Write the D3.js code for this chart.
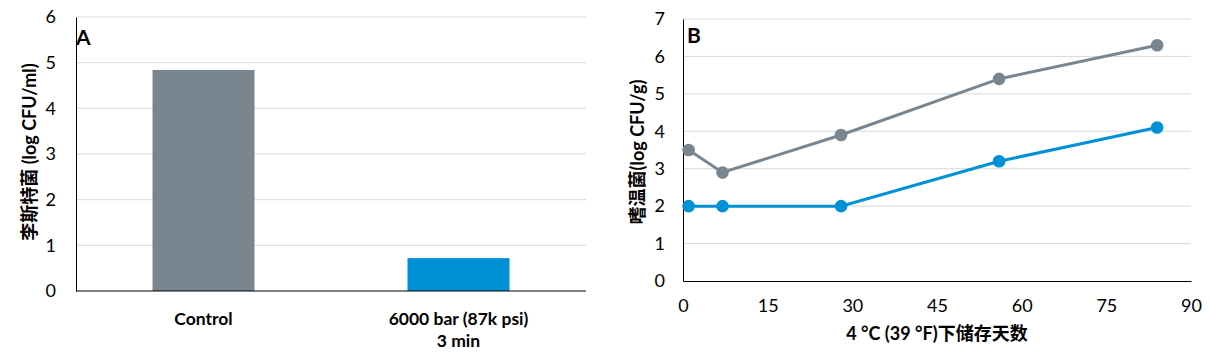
<!DOCTYPE html>
<html><head><meta charset="utf-8">
<script src="https://cdn.jsdelivr.net/npm/d3@7"></script>
<style>
body{margin:0;background:#fff;}
svg{display:block;}
text{font-family:Lato,"Noto Sans CJK SC",sans-serif;}
</style></head><body>
<svg id="c" width="1210" height="354"></svg>
<script>
const catsA = ["Control", "6000 bar (87k psi)|3 min"];
const valsA = [4.84, 0.72];
const colorsA = ["#7A868F", "#0090D6"];
const yTicksA = [0,1,2,3,4,5,6];

const daysB = [1, 7, 28, 56, 84];
const grayB = [3.5, 2.9, 3.9, 5.4, 6.3];
const blueB = [2.0, 2.0, 2.0, 3.2, 4.1];
const xTicksB = [0,15,30,45,60,75,90];
const yTicksB = [0,1,2,3,4,5,6,7];

const svg = d3.select("#c");
const fmt = d3.format("d");

// ---- Chart A ----
const A = {l:76, r:586, t:17, b:291};
const xA = d3.scaleBand().domain(catsA).range([A.l, A.r]).paddingInner(0.6).paddingOuter(0.3);
const yA = d3.scaleLinear().domain([0,6]).range([A.b, A.t]);
const gA = svg.append("g");
gA.selectAll("line.grid").data(yTicksA.filter(d=>d>0)).join("line")
  .attr("x1",A.l).attr("x2",A.r).attr("y1",d=>yA(d)).attr("y2",d=>yA(d))
  .attr("stroke","#D9D9D9").attr("stroke-width",1);
gA.selectAll("rect").data(catsA).join("rect")
  .attr("x",d=>xA(d)).attr("width",xA.bandwidth())
  .attr("y",(d,i)=>yA(valsA[i])).attr("height",(d,i)=>A.b-yA(valsA[i]))
  .attr("fill",(d,i)=>colorsA[i]);
const axA = gA.append("g").attr("transform",`translate(${A.l},0)`)
  .call(d3.axisLeft(yA).tickValues(yTicksA).tickFormat(fmt).tickSize(0).tickPadding(20));
axA.select(".domain").attr("stroke","#000");
axA.selectAll("text").attr("font-size",18).attr("fill","#000").attr("font-family","Lato,sans-serif");
gA.append("line").attr("x1",A.l).attr("x2",A.r).attr("y1",A.b).attr("y2",A.b).attr("stroke","#000");
catsA.forEach(c=>{
  const lines = c.split("|");
  const t = gA.append("text").attr("text-anchor","middle").attr("font-weight","bold")
    .attr("font-size",17.5).attr("fill","#000");
  lines.forEach((ln,i)=>t.append("tspan").attr("x",xA(c)+xA.bandwidth()/2).attr("y",325+i*22).text(ln));
});
gA.append("text").attr("transform",`translate(36,152) rotate(-90)`).attr("text-anchor","middle")
  .attr("font-weight","bold").attr("font-size",18).attr("fill","#000").text("李斯特菌 (log CFU/ml)");
gA.append("text").attr("x",76).attr("y",45).attr("font-weight","bold").attr("font-size",21)
  .attr("font-family","Liberation Sans, Arial, sans-serif").text("A");

// ---- Chart B ----
const B = {l:683, r:1191, t:19, b:281};
const xB = d3.scaleLinear().domain([0,90]).range([B.l, B.r]);
const yB = d3.scaleLinear().domain([0,7]).range([B.b, B.t]);
const gB = svg.append("g");
gB.selectAll("line.grid").data(yTicksB.filter(d=>d>0)).join("line")
  .attr("x1",B.l).attr("x2",B.r).attr("y1",d=>yB(d)).attr("y2",d=>yB(d))
  .attr("stroke","#D9D9D9").attr("stroke-width",1);
const axBy = gB.append("g").attr("transform",`translate(${B.l},0)`)
  .call(d3.axisLeft(yB).tickValues(yTicksB).tickFormat(fmt).tickSize(0).tickPadding(18));
axBy.select(".domain").attr("stroke","#000");
axBy.selectAll("text").attr("font-size",18).attr("fill","#000").attr("font-family","Lato,sans-serif");
const axBx = gB.append("g").attr("transform",`translate(0,${B.b})`)
  .call(d3.axisBottom(xB).tickValues(xTicksB).tickFormat(fmt).tickSize(0).tickPadding(18));
axBx.select(".domain").attr("stroke","#000");
axBx.selectAll("text").attr("font-size",18).attr("fill","#000").attr("font-family","Lato,sans-serif");
const line = d3.line().x((d,i)=>xB(daysB[i])).y(d=>yB(d));
[[grayB,"#7A868F"],[blueB,"#0090D6"]].forEach(([vals,col])=>{
  gB.append("path").datum(vals).attr("d",line).attr("fill","none").attr("stroke",col).attr("stroke-width",3);
  gB.selectAll(null).data(vals).join("circle")
    .attr("cx",(d,i)=>xB(daysB[i])).attr("cy",d=>yB(d)).attr("r",6.3).attr("fill",col);
});
gB.append("text").attr("x",(B.l+B.r)/2).attr("y",340).attr("text-anchor","middle")
  .attr("font-weight","bold").attr("font-size",18).attr("fill","#000").text("4 °C (39 °F)下储存天数");
gB.append("text").attr("transform",`translate(644,152) rotate(-90)`).attr("text-anchor","middle")
  .attr("font-weight","bold").attr("font-size",18).attr("fill","#000").text("嗜温菌(log CFU/g)");
gB.append("text").attr("x",687).attr("y",43).attr("font-weight","bold").attr("font-size",21)
  .attr("font-family","Liberation Sans, Arial, sans-serif").text("B");
</script>
</body></html>
